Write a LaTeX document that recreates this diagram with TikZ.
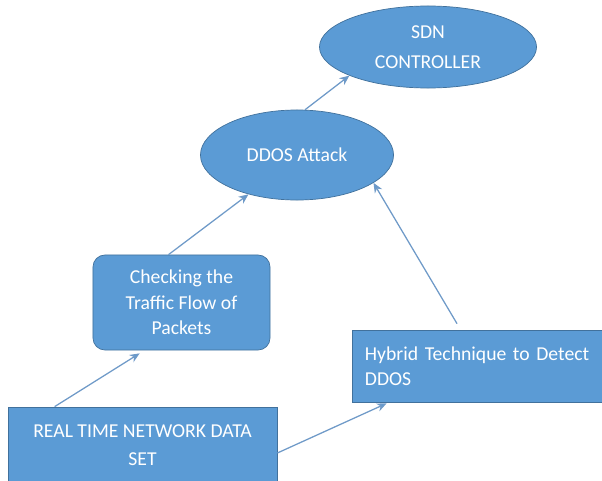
\documentclass[tikz,border=0pt]{standalone}
\usepackage{fontspec}
\setmainfont{Carlito}
\usetikzlibrary{shapes.geometric,arrows.meta,calc}

\definecolor{boxblue}{HTML}{5B9BD5}
\definecolor{edgeblue}{HTML}{41719C}
\definecolor{lineblue}{HTML}{6F9AC8}

\tikzset{
	oval/.style={ellipse, fill=boxblue, draw=edgeblue, line width=0.5pt, text=white, align=center, inner sep=0pt},
	block/.style={rectangle, fill=boxblue, draw=edgeblue, line width=0.5pt, text=white, align=center},
	flow/.style={draw=lineblue, line width=0.9pt, -{Stealth[length=7pt,width=6pt,fill=boxblue]}}
}

\begin{document}
\begin{tikzpicture}[x=0.025cm, y=-0.025cm, font=\fontsize{14}{18}\selectfont]
	\useasboundingbox (0,0) rectangle (602,480);
	% top
	\node[oval, minimum width=5.425cm, minimum height=2.05cm] (sdn) at (428,47) {SDN\\[3pt]CONTROLLER};
	\node[oval, minimum width=4.825cm, minimum height=2.25cm] (ddos) at (297,155) {DDOS Attack};
	% middle
	\node[block, rounded corners=0.3cm, minimum width=4.425cm, minimum height=2.375cm] (check) at (181.5,302.5) {Checking the\\Traffic Flow of\\Packets};
	\node[block, align=left, text width=5.95cm, inner xsep=0.325cm, minimum height=1.8cm] (hybrid) at (484,366) {Hybrid Technique to Detect\\DDOS};
	% bottom
	\node[block, minimum width=6.725cm, minimum height=1.9cm] (real) at (142.5,445) {REAL TIME NETWORK DATA\\[2pt]SET};
	% connections
	\draw[flow] ($(real.north west)+(47,0)$) -- ($(check.south west)+(47,3)$);
	\draw[flow] ($(real.east)+(0,8)$) -- ($(hybrid.south west)+(35,1)$);
	\draw[flow] ($(check.north)+(-13,0)$) -- (ddos.219);
	\draw[flow] ($(hybrid.north)+(-27,-6)$) -- (ddos.-20);
	\draw[flow] (ddos.80) -- (sdn.200);
\end{tikzpicture}
\end{document}
